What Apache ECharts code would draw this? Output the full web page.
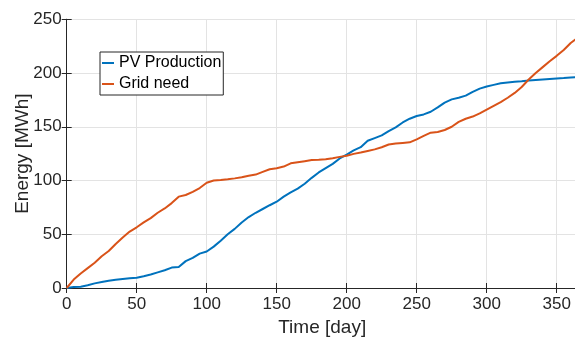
<!DOCTYPE html>
<html>
<head>
<meta charset="utf-8">
<script src="https://cdn.jsdelivr.net/npm/echarts@6/dist/echarts.min.js"></script>
<style>
  html, body { margin: 0; padding: 0; background: #fff; }
  #chart { width: 575px; height: 338px; }
</style>
</head>
<body>
<div id="chart"></div>
<script>
// days, every 5 days over a year
const days = [0,5,10,15,20,25,30,35,40,45,50,55,60,65,70,75,80,85,90,95,100,105,110,115,120,125,130,135,140,145,150,155,160,165,170,175,180,185,190,195,200,205,210,215,220,225,230,235,240,245,250,255,260,265,270,275,280,285,290,295,300,305,310,315,320,325,330,335,340,345,350,355,360,365];

// cumulative energy [MWh]
const pvProduction = [0,1,1.2,2.5,4.3,5.5,6.7,7.6,8.3,9,9.6,11,12.5,14.5,16.5,19,19.5,25,28,32,34,38.5,44,50,55,61,66,70,73.5,77,80.3,85,89,92.5,97,102.5,107.5,111.5,115.5,120.5,124,128,131,137,139.5,142,146,149.5,154,157.5,160,161.5,164,168,172.5,175.5,177,179,182.5,185.5,187.5,189,190.5,191.3,192,192.4,193,193.5,194,194.5,195,195.3,195.8,196.3];
const gridNeed = [0,7.8,13.5,18.5,23.5,29.5,34.5,41,47,52.5,56.5,61,65,70,74,79,85,86.5,89.5,93,98,100,100.5,101.2,102,103,104.5,105.5,108,110.5,111.5,113,116,117,118,119,119.3,119.7,120.8,122,123,124.8,126,127.5,129,131,133.5,134.5,135,135.5,138.3,141.5,144.5,145.2,147,150,154.5,157.5,159.5,162.5,166,169.5,173,177,181.5,187,194,200,205.5,211,216,221.5,228,233];

const seriesNames = ['PV Production', 'Grid need'];

const axisColor = '#262626';
const gridColor = '#e3e3e3';

function pairs(xs, ys) {
  return xs.map((x, i) => [x, ys[i]]);
}

const chart = echarts.init(document.getElementById('chart'), null, { renderer: 'canvas' });

// shared tick style, matlab puts ticks inside the box
const tickIn = { show: true, inside: true, length: 5, lineStyle: { color: axisColor } };

const options = {
  animation: false,
  backgroundColor: '#fff',
  grid: {
    left: 66.7,
    top: 19.3,
    right: -2.7,
    bottom: 50,
    outerBoundsMode: 'none', // keep the box where it is, labels may hang out
  },
  legend: {
    orient: 'vertical',
    left: 100,
    top: 52,
    padding: [3, 2, 3, 2],
    itemGap: 5,
    itemWidth: 12,
    itemHeight: 2,
    icon: 'rect',
    backgroundColor: '#fff',
    borderColor: axisColor,
    borderWidth: 1,
    borderRadius: 0,
    textStyle: { color: '#000', fontSize: 16, fontFamily: 'Liberation Sans' },
    data: seriesNames,
  },
  xAxis: [
    {
      type: 'value',
      min: 0,
      max: 365,
      interval: 50,
      name: 'Time [day]',
      nameLocation: 'middle',
      nameGap: 30,
      nameMoveOverlap: false,
      nameTextStyle: { color: axisColor, fontSize: 19, fontFamily: 'Liberation Sans' },
      axisLine: { show: true, lineStyle: { color: axisColor } },
      axisTick: tickIn,
      axisLabel: { color: axisColor, fontSize: 17, margin: 8, fontFamily: 'Liberation Sans', showMaxLabel: false },
      splitLine: { show: true, lineStyle: { color: gridColor } },
    },
    {
      // top edge of the box
      type: 'value',
      position: 'top',
      min: 0,
      max: 365,
      interval: 50,
      axisLine: { show: true, lineStyle: { color: axisColor } },
      axisTick: tickIn,
      axisLabel: { show: false },
      splitLine: { show: false },
    },
  ],
  yAxis: [
    {
      type: 'value',
      min: 0,
      max: 250,
      interval: 50,
      name: 'Energy [MWh]',
      nameLocation: 'middle',
      nameGap: 34,
      nameMoveOverlap: false,
      nameTextStyle: { color: axisColor, fontSize: 19, fontFamily: 'Liberation Sans' },
      axisLine: { show: true, lineStyle: { color: axisColor } },
      axisTick: tickIn,
      axisLabel: { color: axisColor, fontSize: 17, margin: 5, fontFamily: 'Liberation Sans' },
      splitLine: { show: true, lineStyle: { color: gridColor } },
    },
    {
      // right edge of the box
      type: 'value',
      position: 'right',
      min: 0,
      max: 250,
      interval: 50,
      axisLine: { show: true, lineStyle: { color: axisColor } },
      axisTick: tickIn,
      axisLabel: { show: false },
      splitLine: { show: false },
    },
  ],
  series: [
    {
      name: seriesNames[0],
      type: 'line',
      data: pairs(days, pvProduction),
      showSymbol: false,
      color: '#0072BD',
      lineStyle: { width: 2 },
      z: 3,
    },
    {
      name: seriesNames[1],
      type: 'line',
      data: pairs(days, gridNeed),
      showSymbol: false,
      color: '#D95319',
      lineStyle: { width: 2 },
      z: 4,
    },
  ],
};

chart.setOption(options);
</script>
</body>
</html>
